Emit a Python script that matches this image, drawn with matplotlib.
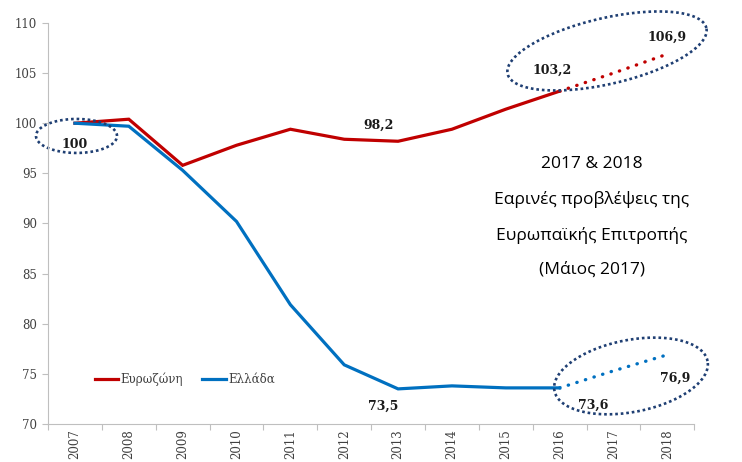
import numpy as np
import matplotlib.pyplot as plt

years = ["2007", "2008", "2009", "2010", "2011", "2012",
         "2013", "2014", "2015", "2016", "2017", "2018"]
eurozone = [100, 100.4, 95.8, 97.8, 99.4, 98.4, 98.2, 99.4, 101.4, 103.2, 105.0, 106.9]
greece = [100, 99.7, 95.3, 90.2, 81.9, 75.9, 73.5, 73.8, 73.6, 73.6, 75.3, 76.9]
n_actual = 10  # up to 2016 actual, then forecast

red = "#C00000"
blue = "#0070C0"
navy = "#1F3F73"

fig = plt.figure(figsize=(7.42, 4.62), dpi=100)
ax = fig.add_axes([0.0647, 0.0823, 0.871, 0.868])

x = np.arange(len(years))
ax.plot(x[:n_actual], eurozone[:n_actual], color=red, lw=2.3, label="Ευρωζώνη",
        solid_joinstyle="miter")
ax.plot(x[:n_actual], greece[:n_actual], color=blue, lw=2.3, label="Ελλάδα",
        solid_joinstyle="miter")
ax.plot(x[n_actual - 1:], eurozone[n_actual - 1:], color=red, lw=2.4,
        ls=(0, (0.1, 2.6)), dash_capstyle="round")
ax.plot(x[n_actual - 1:], greece[n_actual - 1:], color=blue, lw=2.4,
        ls=(0, (0.1, 2.6)), dash_capstyle="round")

ax.set_xlim(-0.5, 11.5)
ax.set_ylim(70, 110)
ax.set_yticks(range(70, 111, 5))
ax.set_xticks(np.arange(-0.5, 12, 1))
ax.set_xticklabels([])
ax.set_xticks(x, minor=True)
ax.set_xticklabels(years, minor=True, rotation=90)
ax.tick_params(axis="x", which="minor", length=0, pad=4)
ax.tick_params(axis="x", which="major", length=4, color="#BFBFBF")
ax.tick_params(axis="y", length=4, color="#BFBFBF", pad=4)
for lab in ax.get_xticklabels(minor=True) + ax.get_yticklabels():
    lab.set_family("DejaVu Serif")
    lab.set_fontsize(8.5)
    lab.set_color("#404040")
for s in ["top", "right"]:
    ax.spines[s].set_visible(False)
for s in ["left", "bottom"]:
    ax.spines[s].set_color("#BFBFBF")

# data labels
labels = [(0.0, 97.9, "100"), (5.63, 99.8, "98,2"), (8.86, 105.3, "103,2"),
          (11.0, 108.6, "106,9"), (5.72, 71.8, "73,5"), (9.62, 71.9, "73,6"),
          (11.15, 74.6, "76,9")]
for lx, ly, t in labels:
    ax.text(lx, ly, t, ha="center", va="center", fontsize=9, fontweight="bold",
            family="DejaVu Serif", color="#1a1a1a")

# dotted ellipses drawn in pixel space then mapped to data
sx = ax.bbox.width / 12.0
sy = ax.bbox.height / 40.0
def ellipse(cx_pix, cy_pix, w, h, ang):
    t = np.linspace(0, 2 * np.pi, 200)
    a = np.deg2rad(ang)
    dx = w / 2 * np.cos(t)
    dy = h / 2 * np.sin(t)
    px = cx_pix + dx * np.cos(a) - dy * np.sin(a)
    py = cy_pix - (dx * np.sin(a) + dy * np.cos(a))
    xd = (px - 48) / sx - 0.5
    yd = 110 - (py - 23) / sy
    ax.plot(xd, yd, color=navy, lw=1.9, ls=(0, (1, 1.1)),
            dash_capstyle="butt", clip_on=False)

ellipse(76.5, 136, 81, 34, 0)
ellipse(607, 51, 204, 66, 13)
ellipse(631, 376, 156, 72, 11)

fig.text(592 / 742, 1 - 156 / 462,
         "2017 & 2018\nΕαρινές προβλέψεις της\nΕυρωπαϊκής Επιτροπής\n(Μάιος 2017)",
         ha="center", va="top", fontsize=12.5, family="Open Sans",
         linespacing=2.45, color="#000000")

leg = ax.legend(loc="center left", bbox_to_anchor=(0.072, 0.112), ncol=2,
                frameon=False, handlelength=2.0, handletextpad=0.2,
                columnspacing=1.6, borderaxespad=0, borderpad=0,
                prop={"family": "DejaVu Serif", "size": 8.5})
for t in leg.get_texts():
    t.set_color("#404040")

fig.savefig("out.png", dpi=100)
